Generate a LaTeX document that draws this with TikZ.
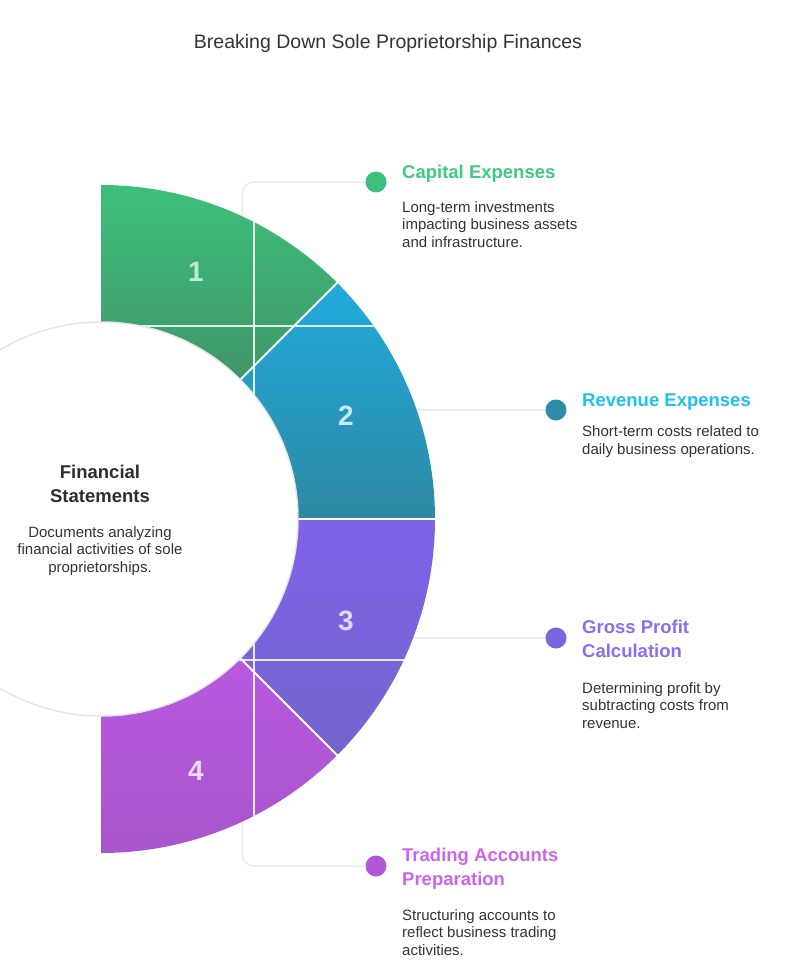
\documentclass[tikz,border=0pt]{standalone}
\usepackage{fontspec}
\setmainfont{Liberation Sans}
\usetikzlibrary{calc}
\definecolor{segatop}{HTML}{3DBF7B}
\definecolor{segabot}{HTML}{409669}
\definecolor{segbtop}{HTML}{20AADC}
\definecolor{segbbot}{HTML}{2D89A3}
\definecolor{segctop}{HTML}{7F63E8}
\definecolor{segcbot}{HTML}{7464CD}
\definecolor{segdtop}{HTML}{B858E0}
\definecolor{segdbot}{HTML}{A856CC}
\definecolor{capgreen}{HTML}{3DCC80}
\definecolor{revblue}{HTML}{1EC0F2}
\definecolor{grspurple}{HTML}{8B6CF2}
\definecolor{trdpink}{HTML}{CB64EE}
\definecolor{textgray}{HTML}{333333}
\definecolor{linkgray}{HTML}{EBEBEB}
\definecolor{rimgray}{HTML}{E6E6E6}
\tikzset{
  seglabel/.style={inner sep=0, font=\fontsize{28}{28}\selectfont\bfseries},
  itemtitle/.style={anchor=base west, inner sep=0, align=left, font=\fontsize{18.5}{23.5}\selectfont\bfseries},
  itemtext/.style={anchor=base west, inner sep=0, align=left, text=textgray, font=\fontsize{15}{17.5}\selectfont},
  itemdot/.style={circle, inner sep=0, minimum size=21},
  linkline/.style={draw=linkgray, line width=1.5, rounded corners=12},
  ringcut/.style={white, line width=2},
  ringgrid/.style={white, line width=1.2, opacity=0.85},
}
\begin{document}
\begin{tikzpicture}[x=1pt,y=-1pt]
\useasboundingbox (0,0) rectangle (787,978);

%%%%%%%%%%%%%%%%%%%%%%%%%%%%%%%%%%%%%%%%%%%%%%%%%%%%%%%%%%%%%% Setup
% multi-line nodes sit on the baseline of their last line
\coordinate (C) at (101,519);
\node[anchor=base, inner sep=0, text=textgray, font=\fontsize{19.5}{23}\selectfont] (title) at (388,48) {Breaking Down Sole Proprietorship Finances};

%%%%%%%%%%%%%%%%%%%%%%%%%%%%%%%%%%%%%%%%%%%%%%%%%%%%%%%%%%%%%% Dots and links
\node[itemdot, fill=segatop] (capdot) at (376,182) {};
\node[itemdot, fill=segbbot!90!segbtop] (revdot) at (556,410) {};
\node[itemdot, fill=segctop!70!segcbot] (grsdot) at (556,638) {};
\node[itemdot, fill=segdtop!60!segdbot] (trddot) at (376,866) {};

\coordinate (capend) at (242,216);
\coordinate (revend) at (417,410);
\coordinate (grsend) at (413,638);
\coordinate (trdend) at (242,816);

\draw[linkline] (capdot.west) -| (capend);
\draw[linkline] (revend) -- (revdot.west);
\draw[linkline] (grsend) -- (grsdot.west);
\draw[linkline] (trdend) |- (trddot.west);

%%%%%%%%%%%%%%%%%%%%%%%%%%%%%%%%%%%%%%%%%%%%%%%%%%%%%%%%%%%%%% Ring
\foreach \a/\ctop/\cbot in {-90/segatop/segabot, -45/segbtop/segbbot, 0/segctop/segcbot, 45/segdtop/segdbot}
  \shade[top color=\ctop, bottom color=\cbot] ($(C)+(\a:196)$) arc[start angle=\a, delta angle=45, radius=196]
    -- ($(C)+(\a+45:334)$) arc[start angle=\a+45, delta angle=-45, radius=334] -- cycle;

\begin{scope}
\clip (C) circle[radius=334];
\draw[ringgrid] (254,150) -- (254,900);
\draw[ringgrid] (101,326) -- (450,326);
\draw[ringgrid] (101,660) -- (450,660);
\end{scope}

\foreach \a in {-45,0,45}
  \draw[ringcut] ($(C)+(\a:196)$) -- ($(C)+(\a:334)$);

\node[seglabel, text=segatop!35!white] (n1) at ($(C)+(95,-247)$) {1};
\node[seglabel, text=segbtop!25!white] (n2) at ($(C)+(245,-103)$) {2};
\node[seglabel, text=segctop!25!white] (n3) at ($(C)+(245,102)$) {3};
\node[seglabel, text=segdtop!22!white] (n4) at ($(C)+(95,252)$) {4};

%%%%%%%%%%%%%%%%%%%%%%%%%%%%%%%%%%%%%%%%%%%%%%%%%%%%%%%%%%%%%% Hub
\draw[rimgray, line width=1.5, fill=white] (C) circle[radius=197];
\node[anchor=base, inner sep=0, align=center, text=textgray!90!black, font=\fontsize{18.5}{23.5}\selectfont\bfseries] (hubtitle) at (100,502) {Financial\\Statements};
\node[anchor=base, inner sep=0, align=center, text=textgray, font=\fontsize{15}{17.5}\selectfont] (hubtext) at (100,572) {Documents analyzing\\financial activities of sole\\proprietorships.};

%%%%%%%%%%%%%%%%%%%%%%%%%%%%%%%%%%%%%%%%%%%%%%%%%%%%%%%%%%%%%% Items
\node[itemtitle, text=capgreen] (captitle) at (402,178) {Capital Expenses};
\node[itemtext] (captext) at (402,247) {Long-term investments\\impacting business assets\\and infrastructure.};

\node[itemtitle, text=revblue] (revtitle) at (582,406) {Revenue Expenses};
\node[itemtext] (revtext) at (582,454) {Short-term costs related to\\daily business operations.};

\node[itemtitle, text=grspurple] (grstitle) at (582,657) {Gross Profit\\Calculation};
\node[itemtext] (grstext) at (582,728) {Determining profit by\\subtracting costs from\\revenue.};

\node[itemtitle, text=trdpink] (trdtitle) at (402,885) {Trading Accounts\\Preparation};
\node[itemtext] (trdtext) at (402,955) {Structuring accounts to\\reflect business trading\\activities.};

\end{tikzpicture}
\end{document}
